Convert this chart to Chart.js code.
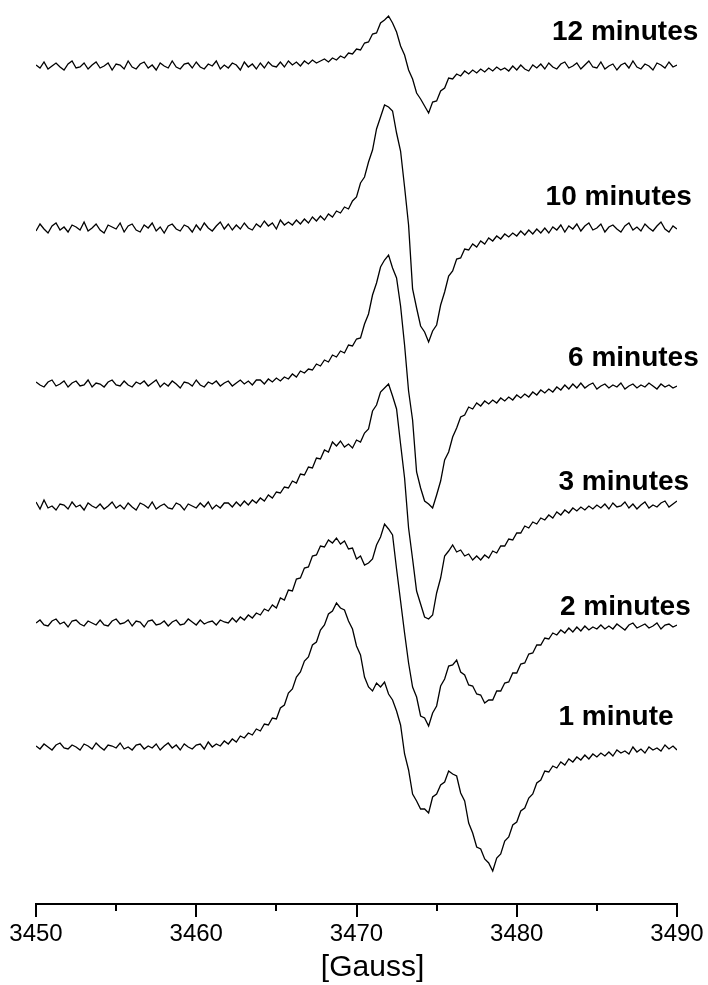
<!DOCTYPE html>
<html>
<head>
<meta charset="utf-8">
<title>EPR spectra</title>
<script src="https://cdn.jsdelivr.net/npm/chart.js@4.4.1/dist/chart.umd.min.js"></script>
<style>
  html, body { margin: 0; padding: 0; background: #fff; }
  #epr { display: block; }
</style>
</head>
<body>
<canvas id="epr" width="708" height="985"></canvas>
<script>
// sweep positions, one point every 0.25 G
const field = [];
for (let k = 0; k <= 160; k++) field.push(3450 + k * 0.25);

const traceNames = ['12 minutes', '10 minutes', '6 minutes', '3 minutes', '2 minutes', '1 minute'];
const baseline = [838, 676, 520, 398, 281, 157];
const labelField = [3482.2, 3481.8, 3483.2, 3482.6, 3482.7, 3482.6];
const labelLevel = [872, 707, 546, 422, 297, 187];
const tickLabels = ['3450', '3460', '3470', '3480', '3490'];
const minorTicks = [3455, 3465, 3475, 3485];
const axisTitle = '[Gauss]';
const axisTitleField = 3471.0;

// signal (arbitrary units, relative to each baseline)
const t12 = [
  1,-2,4,-3,0,3,-1,-4,
  2,5,-2,-1,3,-3,1,4,
  -2,0,3,-4,2,1,-3,5,
  -1,-3,2,4,-2,1,-4,3,
  0,-2,5,-1,-3,2,3,-2,
  4,-1,-3,2,0,5,-3,1,
  -2,3,1,-4,4,-1,2,-3,
  3,-2,4,0,-1,4,-1,5,
  1,4,0,5,2,6,3,5,
  7,4,8,6,10,8,13,12,
  17,16,23,24,32,33,43,46,
  50,43,34,20,11,-4,-13,-27,
  -33,-40,-47,-36,-35,-25,-22,-12,
  -13,-8,-10,-5,-8,-4,-7,-3,
  -6,-2,-5,-1,-4,-2,-5,0,
  -4,1,-3,-5,1,-2,2,-3,
  3,-1,-3,2,4,-2,0,3,
  -3,1,5,-1,-2,4,-3,0,
  2,-4,1,3,-2,5,-1,-3,
  2,0,-4,3,1,-2,4,-1,
  1
];
const t10 = [
  -3,4,-1,-5,2,5,-2,1,
  -4,3,1,-2,6,-3,0,4,
  -2,-5,3,1,-1,5,-4,2,
  4,-2,-4,3,0,5,-3,1,
  -5,2,4,-1,-3,3,1,-4,
  3,-2,5,0,-3,2,6,-1,
  4,-2,3,-1,5,0,-2,4,
  1,7,2,5,-1,8,3,6,
  3,8,4,9,5,11,7,12,
  8,14,11,17,15,21,19,27,
  31,45,51,66,78,99,111,123,
  121,117,95,77,41,3,-61,-80,
  -98,-104,-114,-103,-97,-77,-64,-48,
  -43,-31,-30,-21,-22,-16,-19,-13,
  -16,-10,-13,-8,-11,-6,-9,-5,
  -8,-3,-7,-2,-6,-1,-5,0,
  -5,1,-2,3,-4,2,-1,4,
  -3,2,5,-2,0,4,-4,1,
  3,-1,-4,2,5,-2,1,-3,
  4,0,-3,2,6,-1,-4,2,
  -1
];
const t6 = [
  2,-1,-3,2,4,-2,0,3,
  -3,1,3,-2,-1,4,-3,1,
  0,-3,2,4,-1,-2,3,-1,
  -3,2,0,3,-2,1,4,-3,
  1,-2,3,0,-4,2,1,-2,
  4,-1,-3,2,0,3,-2,1,
  3,-2,1,4,0,3,-1,4,
  4,0,5,2,6,3,7,5,
  10,7,13,11,15,14,20,18,
  24,22,29,27,33,31,39,38,
  45,46,60,70,89,101,117,124,
  129,116,106,78,39,-7,-36,-88,
  -104,-117,-120,-124,-111,-97,-76,-68,
  -53,-44,-33,-31,-23,-25,-19,-22,
  -17,-20,-16,-19,-14,-17,-13,-16,
  -11,-14,-10,-13,-8,-11,-6,-9,
  -5,-8,-3,-6,-1,-5,0,-4,
  1,-4,-1,1,-5,-2,0,-4,
  -1,-3,1,-5,-2,0,-4,-1,
  -3,1,-2,-5,0,-3,-1,-4,
  -2
];
const t3 = [
  4,-3,6,-2,0,-4,2,1,
  -3,4,-1,1,-4,3,0,-2,
  2,-3,0,4,-2,1,-3,3,
  -1,-4,3,1,-2,4,-3,0,
  2,-2,-3,3,1,-4,2,0,
  -2,3,-1,4,-3,1,-2,3,
  3,-1,4,0,5,1,6,3,
  8,5,11,8,14,13,19,18,
  25,23,32,31,39,38,48,47,
  56,54,64,60,65,59,62,58,
  66,64,73,77,95,101,114,118,
  122,110,97,62,28,-22,-53,-85,
  -98,-111,-113,-109,-87,-72,-50,-45,
  -39,-46,-44,-50,-48,-54,-50,-54,
  -49,-52,-45,-47,-40,-40,-33,-34,
  -27,-27,-20,-22,-16,-18,-12,-14,
  -9,-12,-6,-9,-4,-7,-2,-5,
  -1,-4,0,-3,1,-2,2,-3,
  3,-1,0,4,-2,2,-3,1,
  4,-2,1,-1,3,5,-1,2,
  5
];
const t2 = [
  0,3,-2,-3,2,4,-1,1,
  -4,2,3,-1,-3,2,0,-2,
  3,-2,-3,2,4,-1,0,3,
  -3,2,1,-4,2,3,-2,-1,
  2,-3,1,3,-2,-1,4,1,
  -2,3,-1,1,2,-2,3,1,
  0,5,1,6,3,8,5,10,
  8,14,12,18,15,25,23,33,
  32,44,45,55,56,67,68,77,
  76,83,80,85,79,82,74,75,
  64,67,58,60,64,78,86,99,
  94,88,54,22,-10,-40,-64,-74,
  -93,-95,-103,-90,-83,-63,-56,-43,
  -42,-37,-49,-52,-62,-63,-71,-72,
  -80,-77,-77,-68,-68,-60,-59,-50,
  -50,-41,-40,-31,-30,-22,-22,-15,
  -16,-10,-12,-7,-10,-5,-9,-4,
  -8,-3,-7,-4,-6,-2,-6,-3,
  -6,-1,-4,-7,-2,0,-5,-3,
  -1,-5,-3,0,-6,-2,-1,-4,
  -2
];
const t1 = [
  1,-2,3,0,-3,2,4,-1,
  -2,2,0,-3,3,1,-2,4,
  0,-3,2,1,-1,4,-2,0,
  -3,2,3,-2,1,-1,3,-3,
  1,4,-1,2,-3,3,0,-2,
  2,3,-2,5,0,3,1,6,
  3,8,5,11,9,14,12,18,
  16,23,22,29,28,39,42,54,
  58,70,75,86,90,102,105,117,
  122,133,136,144,139,137,126,118,
  101,92,70,60,56,64,60,65,
  53,47,36,22,-7,-23,-47,-54,
  -62,-62,-66,-50,-47,-38,-35,-24,
  -27,-29,-46,-54,-76,-86,-100,-102,
  -112,-116,-124,-111,-107,-94,-90,-78,
  -75,-64,-61,-51,-47,-36,-33,-24,
  -25,-19,-21,-15,-18,-12,-15,-10,
  -13,-8,-12,-7,-10,-6,-9,-5,
  -9,-3,-6,-4,-7,0,-5,-2,
  -6,0,-3,-1,-4,2,-2,1,
  -3
];

const traces = [t12, t10, t6, t3, t2, t1];

const datasets = traces.map((tr, i) => ({
    label: traceNames[i],
    data: tr.map((v, k) => ({ x: field[k], y: v + baseline[i] })),
    borderColor: '#000',
    borderWidth: 1.3,
    pointRadius: 0,
    fill: false,
    tension: 0
}));

// trace names, axis title and the short ticks between the labelled ones
const extrasPlugin = {
    id: 'extras',
    afterDatasetsDraw(chart) {
        const { ctx, scales: { x, y } } = chart;
        const bottom = chart.chartArea.bottom;
        ctx.save();
        ctx.fillStyle = '#000';
        ctx.font = "bold 28px 'Liberation Sans', Arial, sans-serif";
        ctx.textAlign = 'left';
        ctx.textBaseline = 'middle';
        traceNames.forEach((name, i) => {
            ctx.fillText(name, x.getPixelForValue(labelField[i]), y.getPixelForValue(labelLevel[i]));
        });

        ctx.font = "30px 'Liberation Sans', Arial, sans-serif";
        ctx.textAlign = 'center';
        ctx.fillText(axisTitle, x.getPixelForValue(axisTitleField), bottom + 64);

        ctx.strokeStyle = '#000';
        ctx.lineWidth = 2;
        minorTicks.forEach(v => {
            const px = Math.round(x.getPixelForValue(v));
            ctx.beginPath();
            ctx.moveTo(px, bottom);
            ctx.lineTo(px, bottom + 7);
            ctx.stroke();
        });
        ctx.restore();
    }
};

Chart.defaults.font.family = "'Liberation Sans', Arial, sans-serif";
Chart.defaults.color = '#000';

new Chart(document.getElementById('epr'), {
    type: 'line',
    data: { datasets: datasets },
    options: {
        responsive: false,
        animation: false,
        devicePixelRatio: 1,
        layout: { padding: { left: 36, right: 31, top: 4, bottom: 0 } },
        plugins: {
            legend: { display: false },
            tooltip: { enabled: false }
        },
        scales: {
            x: {
                type: 'linear',
                min: 3450,
                max: 3490,
                border: { display: true, color: '#000', width: 2 },
                grid: {
                    display: true,
                    drawOnChartArea: false,
                    drawTicks: true,
                    tickLength: 13,
                    color: '#000',
                    lineWidth: 2
                },
                ticks: {
                    stepSize: 10,
                    color: '#000',
                    font: { size: 24 },
                    padding: 3,
                    maxRotation: 0,
                    autoSkip: false,
                    callback: (v, i) => tickLabels[i]
                },
                title: { display: false },
                afterFit(scale) { scale.height = 81; }
            },
            y: {
                display: false,
                min: 0,
                max: 900
            }
        }
    },
    plugins: [extrasPlugin]
});
</script>
</body>
</html>
